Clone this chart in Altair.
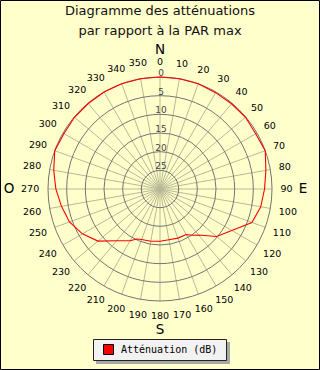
import altair as alt
import pandas as pd

# ---------------- data ----------------
title_lines = ["Diagramme des atténuations", "par rapport à la PAR max"]
legend_label = "Atténuation (dB)"

# measured attenuation (dB) versus bearing (degrees, clockwise from north)
angles = [0, 10, 20, 30, 40, 50, 60, 70, 80, 90, 100, 110, 120, 130, 140, 145,
          150, 160, 170, 180, 190, 200, 205, 210, 220, 230, 240, 250, 260, 270,
          280, 290, 300, 310, 320, 330, 340, 350]
attenuation = [0, 0, 0, 0.2, 0.2, 0.1, 0.4, 0, 1.2, 2.0, 2.6, 3.8, 7.8, 10.2, 13.9, 14.9,
               15.9, 16.0, 16.2, 16.0, 15.8, 15.6, 15.2, 14.0, 11.9, 8.3, 6.0, 4.2, 3.2, 2.1,
               1.1, 0, 0.3, 0.1, 0.1, 0, 0, 0]

ring_levels = [0, 5, 10, 15, 20, 25]          # radial tick labels (dB)
angle_ticks = list(range(0, 360, 10))          # angular tick labels
compass_letters = ["N", "E", "S", "O"]
compass_angles = [0, 90, 180, 270]

# ---------------- geometry helpers (transforms) ----------------
DB_CENTRE = 30          # dB at the centre of the plot
PX_PER_DB = 112 / 30    # pixel radius per dB
R_EXPR = f"({DB_CENTRE} - datum.v) * {PX_PER_DB}"
SIN = "sin(datum.angle * PI / 180)"
COS = "cos(datum.angle * PI / 180)"

xs = alt.Scale(domain=[-160, 160])
ys = alt.Scale(domain=[-181, 189])


def X(f):
    return alt.X(f"{f}:Q", scale=xs, axis=None)


def Y(f):
    return alt.Y(f"{f}:Q", scale=ys, axis=None)


one = pd.DataFrame({"a": [0]})

# spokes
spokes = (
    alt.Chart(pd.DataFrame({"angle": angle_ticks}))
    .transform_calculate(v="0")
    .transform_calculate(r=R_EXPR)
    .transform_calculate(x0="0", y0="0", x1=f"datum.r * {SIN}", y1=f"datum.r * {COS}")
    .mark_rule(color="#B9B996", strokeWidth=1)
    .encode(x=X("x0"), y=Y("y0"), x2="x1:Q", y2="y1:Q")
)

# rings
rings = (
    alt.Chart(pd.DataFrame({"v": ring_levels}))
    .transform_calculate(r=R_EXPR)
    .transform_calculate(x0="0", y0="0", s="4 * datum.r * datum.r")
    .mark_point(shape="circle", filled=False, color="#747474", strokeWidth=1, opacity=1)
    .encode(x=X("x0"), y=Y("y0"), size=alt.Size("s:Q", scale=None, legend=None))
)

ring_labels = (
    alt.Chart(pd.DataFrame({"v": ring_levels}))
    .transform_calculate(r=R_EXPR)
    .transform_calculate(x0="0", lab="toString(datum.v)")
    .mark_text(font="DejaVu Sans", fontSize=9, color="#444444", baseline="bottom",
               align="center", dx=1, dy=1)
    .encode(x=X("x0"), y=Y("r"), text="lab:N")
)

# data line (closed)
line_df = pd.DataFrame({"angle": angles + [angles[0] + 360],
                        "v": attenuation + [attenuation[0]]})
line_df["i"] = range(len(line_df))
curve = (
    alt.Chart(line_df)
    .transform_calculate(r=R_EXPR)
    .transform_calculate(x=f"datum.r * {SIN}", y=f"datum.r * {COS}")
    .mark_line(color="#FF0000", strokeWidth=1.1)
    .encode(x=X("x"), y=Y("y"), order="i:Q")
)

# angular labels
angle_labels = (
    alt.Chart(pd.DataFrame({"angle": angle_ticks}))
    .transform_calculate(lab="toString(datum.angle)")
    .transform_calculate(rl=f"127 + abs({SIN}) * (length(datum.lab) * 3.3 - 7)")
    .transform_calculate(x=f"datum.rl * {SIN}", y=f"datum.rl * {COS}")
    .mark_text(font="DejaVu Sans", fontSize=9.5, color="#000000", align="center", baseline="middle")
    .encode(x=X("x"), y=Y("y"), text="lab:N")
)

compass = (
    alt.Chart(pd.DataFrame({"angle": compass_angles, "lettre": compass_letters}))
    .transform_calculate(rl=f"139 + abs({SIN}) * (datum.lettre == 'O' ? 12 : 4) + ({COS} < -0.5 ? 2 : 0)")
    .transform_calculate(x=f"datum.rl * {SIN}", y=f"datum.rl * {COS}")
    .mark_text(font="DejaVu Sans", fontSize=13.5, color="#000000", align="center", baseline="middle")
    .encode(x=X("x"), y=Y("y"), text="lettre:N")
)

# title
title1 = alt.Chart(one).mark_text(text=title_lines[0], font="DejaVu Sans", fontSize=13,
                                  color="#111111", align="center", baseline="alphabetic").encode(
    x=alt.value(160), y=alt.value(15))
title2 = alt.Chart(one).mark_text(text=title_lines[1], font="DejaVu Sans", fontSize=13,
                                  color="#111111", align="center", baseline="alphabetic").encode(
    x=alt.value(160), y=alt.value(34.5))

# legend
leg_shadow = alt.Chart(one).mark_rect(color="#A8A8A8").encode(
    x=alt.value(96), x2=alt.value(230), y=alt.value(342), y2=alt.value(364))
leg_box = alt.Chart(one).mark_rect(fill="#F2F2F2", stroke="#222222", strokeWidth=1).encode(
    x=alt.value(93.5), x2=alt.value(226.5), y=alt.value(339.5), y2=alt.value(360.5))
leg_sym = alt.Chart(one).mark_rect(fill="#FF0000", stroke="#000000", strokeWidth=1).encode(
    x=alt.value(103.5), x2=alt.value(113.5), y=alt.value(344.5), y2=alt.value(354.5))
leg_txt = alt.Chart(one).mark_text(text=legend_label, font="DejaVu Sans Mono", fontSize=10,
                                   color="#000000", align="left", baseline="middle").encode(
    x=alt.value(121), y=alt.value(350))

border = alt.Chart(one).mark_rect(fillOpacity=0, stroke="#000000", strokeWidth=1).encode(
    x=alt.value(0.5), x2=alt.value(319.5), y=alt.value(0.5), y2=alt.value(369.5))

chart = alt.layer(
    spokes, rings, ring_labels, curve, angle_labels, compass,
    title1, title2, leg_shadow, leg_box, leg_sym, leg_txt, border
).properties(
    width=320, height=370,
    autosize=alt.AutoSizeParams(type="none"),
    padding=0,
    background="#FFFFCC",
).configure_view(strokeWidth=0)

chart.save("out.html", embed_options={"renderer": "svg", "actions": False})
